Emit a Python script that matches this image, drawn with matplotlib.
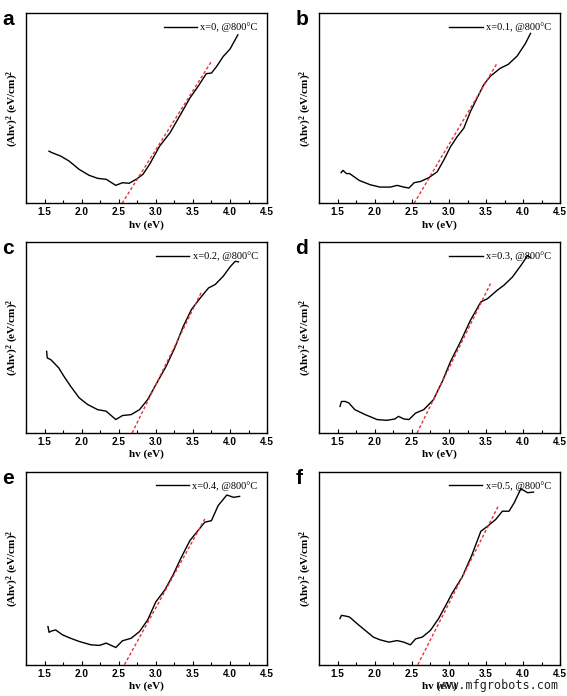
import numpy as np
import matplotlib
matplotlib.use("Agg")
import matplotlib.pyplot as plt
from matplotlib.ticker import MultipleLocator, NullLocator

# curves: x in eV, y as fraction of axis height
a_x = [1.559, 1.60, 1.717, 1.83, 1.966, 2.10, 2.215, 2.33, 2.46, 2.55, 2.64, 2.735, 2.826, 2.916,
       3.05, 3.19, 3.32, 3.46, 3.57, 3.68, 3.75, 3.82, 3.91, 4.0, 4.106]
a_y = [0.274, 0.266, 0.248, 0.222, 0.178, 0.147, 0.131, 0.126, 0.094, 0.108, 0.105, 0.126, 0.152, 0.205,
       0.30, 0.37, 0.458, 0.554, 0.615, 0.682, 0.685, 0.72, 0.773, 0.811, 0.886]

b_x = [1.545, 1.57, 1.617, 1.66, 1.79, 1.94, 2.07, 2.21, 2.30, 2.39, 2.46, 2.53, 2.62, 2.73, 2.84,
       2.93, 3.02, 3.11, 3.20, 3.29, 3.38, 3.47, 3.56, 3.69, 3.80, 3.92, 4.03, 4.10]
b_y = [0.161, 0.173, 0.156, 0.156, 0.12, 0.097, 0.085, 0.085, 0.094, 0.085, 0.08, 0.108, 0.115, 0.135, 0.165,
       0.227, 0.297, 0.35, 0.395, 0.483, 0.554, 0.625, 0.669, 0.71, 0.731, 0.775, 0.84, 0.894]

c_x = [1.527, 1.536, 1.58, 1.627, 1.69, 1.76, 1.85, 1.966, 2.08, 2.215, 2.33, 2.46, 2.55, 2.667, 2.78,
       2.89, 3.0, 3.14, 3.255, 3.37, 3.48, 3.6, 3.71, 3.80, 3.91, 4.0, 4.07, 4.115]
c_y = [0.428, 0.393, 0.385, 0.367, 0.341, 0.297, 0.245, 0.184, 0.149, 0.122, 0.114, 0.07, 0.091, 0.096, 0.122,
       0.175, 0.253, 0.35, 0.446, 0.559, 0.647, 0.708, 0.76, 0.778, 0.822, 0.87, 0.9, 0.897]

d_x = [1.53, 1.55, 1.60, 1.65, 1.73, 1.87, 2.03, 2.16, 2.27, 2.32, 2.39, 2.46, 2.55, 2.66, 2.79,
       2.91, 3.02, 3.155, 3.29, 3.43, 3.52, 3.65, 3.74, 3.855, 3.97, 4.06, 4.10]
d_y = [0.139, 0.165, 0.165, 0.157, 0.122, 0.096, 0.07, 0.066, 0.073, 0.087, 0.073, 0.07, 0.104, 0.122, 0.174,
       0.27, 0.374, 0.478, 0.591, 0.687, 0.704, 0.748, 0.774, 0.817, 0.878, 0.93, 0.918]

e_x = [1.545, 1.56, 1.595, 1.65, 1.74, 1.85, 1.97, 2.125, 2.24, 2.33, 2.46, 2.55, 2.667, 2.78, 2.89,
       3.0, 3.12, 3.23, 3.345, 3.46, 3.57, 3.66, 3.75, 3.84, 3.957, 4.05, 4.13]
e_y = [0.198, 0.168, 0.175, 0.18, 0.155, 0.137, 0.12, 0.103, 0.1, 0.112, 0.089, 0.124, 0.137, 0.172, 0.232,
       0.326, 0.387, 0.464, 0.558, 0.644, 0.696, 0.739, 0.747, 0.825, 0.88, 0.868, 0.873]

f_x = [1.53, 1.55, 1.62, 1.66, 1.76, 1.87, 1.98, 2.07, 2.19, 2.30, 2.39, 2.48, 2.55, 2.64, 2.75,
       2.86, 2.97, 3.04, 3.18, 3.31, 3.43, 3.52, 3.63, 3.72, 3.81, 3.88, 3.97, 4.06, 4.14]
f_y = [0.239, 0.256, 0.251, 0.247, 0.213, 0.178, 0.143, 0.129, 0.117, 0.125, 0.117, 0.103, 0.134, 0.143, 0.178,
       0.239, 0.317, 0.369, 0.456, 0.57, 0.692, 0.718, 0.753, 0.796, 0.796, 0.84, 0.913, 0.892, 0.895]

# red tangent lines: (x0, y0, x1, y1)
fits = [
    (2.545, 0.0, 3.744, 0.743),
    (2.53, 0.0, 3.64, 0.731),
    (2.68, 0.0, 3.62, 0.743),
    (2.57, 0.0, 3.56, 0.783),
    (2.577, 0.0, 3.66, 0.756),
    (2.58, 0.0, 3.66, 0.819),
]

labels = ["x=0, @800°C", "x=0.1, @800°C", "x=0.2, @800°C",
          "x=0.3, @800°C", "x=0.4, @800°C", "x=0.5, @800°C"]
letters = ["a", "b", "c", "d", "e", "f"]
curves = [(a_x, a_y), (b_x, b_y), (c_x, c_y), (d_x, d_y), (e_x, e_y), (f_x, f_y)]

plt.rcParams["mathtext.default"] = "regular"
serif = "Liberation Serif"
sans = "Liberation Sans"

fig = plt.figure(figsize=(5.67, 6.96), dpi=100)

lefts = [0.046, 0.563]
rows = [(0.708, 0.273), (0.378, 0.274), (0.045, 0.277)]
width = 0.425

for i in range(6):
    r, c = divmod(i, 2)
    bottom, height = rows[r]
    ax = fig.add_axes([lefts[c], bottom, width, height])
    xs, ys = curves[i]
    ax.plot(xs, ys, color="black", lw=1.0, label=labels[i])
    x0, y0, x1, y1 = fits[i]
    ax.plot([x0, x1], [y0, y1], color="#e8303a", lw=1.0, ls=(0, (2.2, 1.6)))
    ax.set_xlim(1.25, 4.5)
    ax.set_ylim(0, 1)
    ax.xaxis.set_major_locator(MultipleLocator(0.5))
    ax.xaxis.set_minor_locator(MultipleLocator(0.25))
    ax.yaxis.set_major_locator(NullLocator())
    ax.tick_params(axis="x", which="major", direction="in", length=3, width=0.8, pad=3)
    ax.tick_params(axis="x", which="minor", direction="in", length=2, width=0.8)
    for lab in ax.get_xticklabels():
        lab.set_fontfamily(sans)
        lab.set_fontweight("bold")
        lab.set_fontsize(7.2)
    for s in ax.spines.values():
        s.set_linewidth(1.0)
    ax.set_xlabel("hv (eV)", fontfamily=serif, fontweight="bold", fontsize=8, labelpad=2)
    ax.set_ylabel("(Ahv)$^2$ (eV/cm)$^2$", fontfamily=serif, fontweight="bold", fontsize=8, labelpad=4)
    ax.legend(handles=[ax.lines[0]], loc="upper right", frameon=False,
              prop={"family": serif, "size": 7.5}, handlelength=3.2,
              handletextpad=0.3, borderaxespad=0.5)
    pos = ax.get_position()
    fig.text(pos.x0 - 0.042, pos.y1 + 0.004, letters[i], fontfamily=sans,
             fontweight="bold", fontsize=15, ha="left", va="top")

fig.text(0.985, 0.006, "www.mfgrobots.com", fontfamily="DejaVu Sans Mono",
         fontsize=8.5, ha="right", va="bottom", color="#222222")

fig.savefig("out.png", dpi=100)
